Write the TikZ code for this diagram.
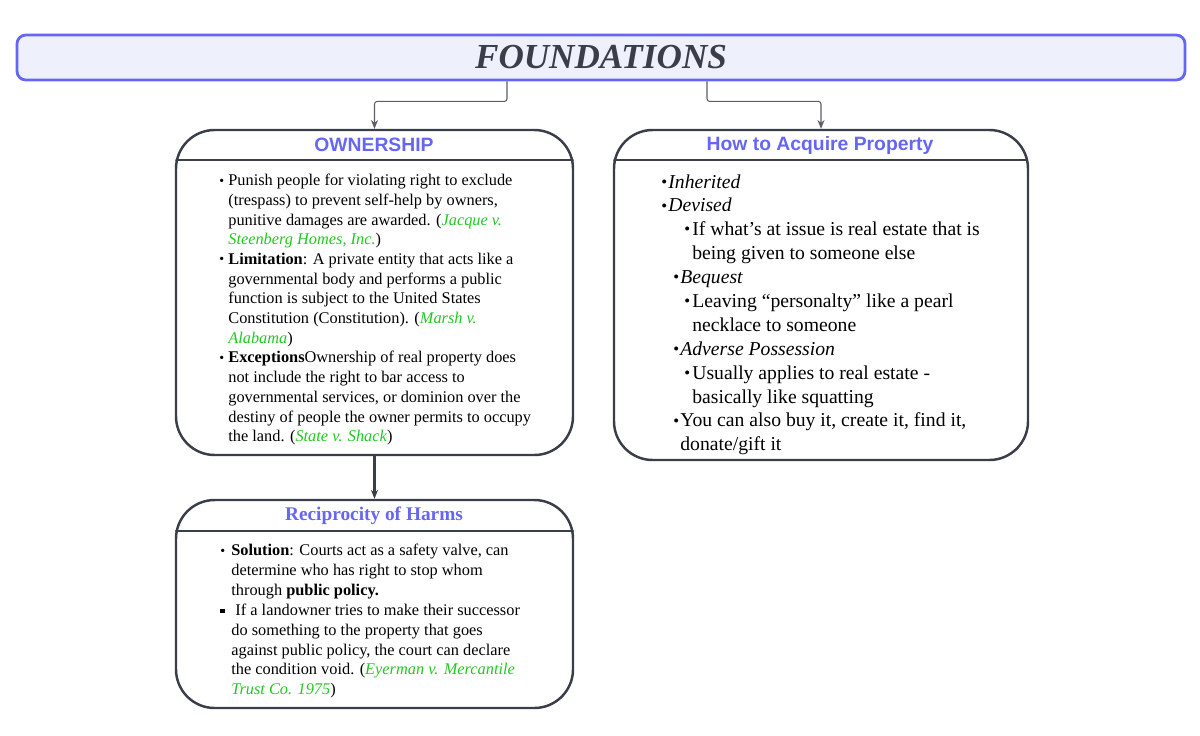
\documentclass[tikz,border=0pt]{standalone}
\usepackage{fontspec}
\setmainfont{Liberation Serif}
\setsansfont{Liberation Sans}
\usetikzlibrary{calc, arrows.meta}

\definecolor{hdrblue}{RGB}{102,102,245}
\definecolor{titlefill}{RGB}{238,240,252}
\definecolor{boxline}{RGB}{58,62,72}
\definecolor{casegreen}{RGB}{34,200,34}
\definecolor{wirecol}{RGB}{90,94,102}

% unita' pixel del riferimento
\newlength{\pxu}
\setlength{\pxu}{0.02cm}
% bullets and indents
\newcommand{\bul}[1]{\makebox[#1\pxu][l]{\raisebox{0.1ex}{\scalebox{0.85}{\textbullet}}}}
\newcommand{\ind}[1]{\hspace*{#1\pxu}}
\newcommand{\case}[1]{\textcolor{casegreen}{\textit{#1}}}

\begin{document}
\begin{tikzpicture}[x=0.02cm, y=-0.02cm, >={Stealth[length=5pt,width=4pt]}]

		% --- Stili ---
		\tikzset{
			titlebox/.style={draw=hdrblue, line width=1.6pt, fill=titlefill, rounded corners=5pt, inner sep=0pt},
			topicbox/.style={draw=boxline, line width=1.4pt, rounded corners=22pt, inner sep=0pt},
			header/.style={text=hdrblue, font=\sffamily\bfseries\fontsize{11}{13}\selectfont, inner sep=0pt},
			sep/.style={draw=boxline, line width=1.4pt},
			body/.style={align=left, anchor=north west, inner sep=0pt},
			conn/.style={draw=wirecol, line width=0.6pt, ->, rounded corners=1.5pt}
		}

		\useasboundingbox (0,0) rectangle (1200,735);

		% --- Titolo ---
		\node[titlebox, minimum width=1168*0.02cm, minimum height=45*0.02cm] (title) at (601,57.5) {};
		\node[text=boxline, font=\bfseries\itshape\fontsize{20}{23}\selectfont] (titletxt) at (title.center) {FOUNDATIONS};

		% --- Riquadri ---
		\node[topicbox, minimum width=397*0.02cm, minimum height=325*0.02cm] (own) at (374.5,292.5) {};
		\node[topicbox, minimum width=414*0.02cm, minimum height=330*0.02cm] (acq) at (821,295) {};
		\node[topicbox, minimum width=397*0.02cm, minimum height=208*0.02cm] (rec) at (374.5,604) {};

		% linee di intestazione (tagliate dal bordo arrotondato)
		\foreach \bx/\yy in {own/160, acq/160, rec/531} {
			\begin{scope}
				\clip[rounded corners=22pt] (\bx.south west) rectangle (\bx.north east);
				\draw[sep] (\bx.west |- 0,\yy) -- (\bx.east |- 0,\yy);
			\end{scope}
		}

		% intestazioni
		\node[header] (ownhdr) at (374,145) {OWNERSHIP};
		\node[header] (acqhdr) at (820,145) {How to Acquire Property};
		\node[header, font=\rmfamily\bfseries\fontsize{11}{13}\selectfont] (rechdr) at (374,516) {Reciprocity of Harms};

		% --- Collegamenti ---
		\draw[conn] ($(title.south)+(-94,0)$) -- ++(0,20) -| (own.north);
		\draw[conn] ($(title.south)+(106,0)$) -- ++(0,20) -| (acq.north);
		\draw[draw=boxline, line width=1.2pt, ->] (own.south) -- (rec.north);

		% --- Testi ---
		\node[body, font=\fontsize{9.3}{11.2}\selectfont] (owntxt) at (219,174) {%
			\bul{9}Punish people for violating right to exclude\\
			\ind{9}(trespass) to prevent self-help by owners,\\
			\ind{9}punitive damages are awarded. (\case{Jacque v.}\\
			\ind{9}\case{Steenberg Homes, Inc.})\\
			\bul{9}\textbf{Limitation}: A private entity that acts like a\\
			\ind{9}governmental body and performs a public\\
			\ind{9}function is subject to the United States\\
			\ind{9}Constitution (Constitution). (\case{Marsh v.}\\
			\ind{9}\case{Alabama})\\
			\bul{9}\textbf{Exceptions}Ownership of real property does\\
			\ind{9}not include the right to bar access to\\
			\ind{9}governmental services, or dominion over the\\
			\ind{9}destiny of people the owner permits to occupy\\
			\ind{9}the land. (\case{State v. Shack})};

		\node[body, font=\fontsize{11.2}{13.6}\selectfont] (acqtxt) at (661,174) {%
			\bul{7}\textit{Inherited}\\
			\bul{7}\textit{Devised}\\
			\ind{23}\bul{8}If what's at issue is real estate that is\\
			\ind{31}being given to someone else\\
			\ind{12}\bul{7}\textit{Bequest}\\
			\ind{23}\bul{8}Leaving “personalty” like a pearl\\
			\ind{31}necklace to someone\\
			\ind{12}\bul{7}\textit{Adverse Possession}\\
			\ind{23}\bul{8}Usually applies to real estate -\\
			\ind{31}basically like squatting\\
			\ind{12}\bul{7}You can also buy it, create it, find it,\\
			\ind{19}donate/gift it};

		\node[body, font=\fontsize{9.3}{11.3}\selectfont] (rectxt) at (220,544) {%
			\bul{11}\textbf{Solution}: Courts act as a safety valve, can\\
			\ind{11}determine who has right to stop whom\\
			\ind{11}through \textbf{public policy.}\\
			\makebox[11\pxu][l]{\raisebox{0.3ex}{\rule{2.5pt}{2.5pt}}}\ If a landowner tries to make their successor\\
			\ind{11}do something to the property that goes\\
			\ind{11}against public policy, the court can declare\\
			\ind{11}the condition void. (\case{Eyerman v. Mercantile}\\
			\ind{11}\case{Trust Co. 1975})};

\end{tikzpicture}
\end{document}
